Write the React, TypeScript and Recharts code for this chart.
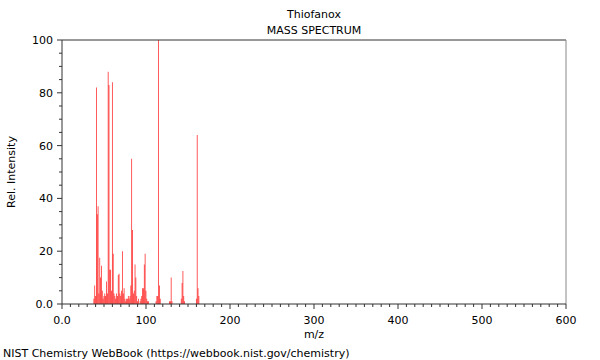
import React from "react";
import { BarChart, Bar, XAxis, YAxis, ReferenceLine } from "recharts";

// m/z values and relative intensities
const mzValues = [
  38, 39, 40, 41, 42, 43, 44, 45, 46, 47, 48, 49, 50, 51, 52, 53, 54, 55, 56, 57,
  58, 59, 60, 61, 62, 63, 64, 65, 66, 67, 68, 69, 70, 71, 72, 73, 74, 75, 76, 77,
  78, 79, 80, 81, 82, 83, 84, 85, 86, 87, 88, 89, 90, 91, 93, 94, 95, 96, 97, 98,
  99, 100, 101, 102, 103, 112, 113, 114, 115, 116, 117, 128, 129, 130, 131, 142,
  143, 144, 145, 146, 160, 161, 162, 163,
];
const intensities = [
  2, 7, 3, 82, 34, 37, 4, 17.5, 10, 14.5, 5, 2, 3, 4, 3, 8.5, 4, 88, 83, 13,
  13, 5, 84, 19, 4, 3, 2, 4, 3, 11, 11.5, 4, 3, 5, 20, 4, 6, 2, 1, 2,
  2, 3, 2, 3, 7, 55, 28, 4, 5, 15, 10, 3, 1, 2, 1, 2, 3, 6, 6, 15,
  19, 5, 2, 1, 1, 1, 3, 3, 100, 7, 2, 1, 1, 10, 1, 2,
  8, 12.5, 3, 1, 2, 64, 6, 3,
];

const xTicks = Array.from({ length: 61 }, (_, i) => i * 10);
const yTicks = Array.from({ length: 21 }, (_, i) => i * 5);

const data = mzValues.map((mz, i) => ({ mz, value: intensities[i] }));

const FONT = "'DejaVu Sans', sans-serif";

function XTick(props: any) {
  const { x, y, payload } = props;
  const v = payload.value;
  const major = v % 100 === 0;
  return (
    <g>
      <line x1={x} x2={x} y1={y} y2={y + (major ? 5 : 3)} stroke="#333" />
      {major && (
        <text x={x} y={y + 20} textAnchor="middle" fontSize={11} fontFamily={FONT} fill="#000">
          {v === 0 ? "0.0" : v}
        </text>
      )}
    </g>
  );
}

function YTick(props: any) {
  const { x, y, payload } = props;
  const v = payload.value;
  const major = v % 20 === 0;
  return (
    <g>
      <line x1={x - (major ? 5 : 3)} x2={x} y1={y} y2={y} stroke="#333" />
      {major && (
        <text x={x - 9} y={y + 4} textAnchor="end" fontSize={11} fontFamily={FONT} fill="#000">
          {v === 0 ? "0.0" : v}
        </text>
      )}
    </g>
  );
}

export default function App() {
  return (
    <div style={{ position: "absolute", left: 0, top: 0, width: 600, height: 360, background: "#fff", fontFamily: FONT }}>
      <div style={{ position: "absolute", left: 62, width: 504, top: 8, textAlign: "center", fontSize: 11 }}>
        Thiofanox
      </div>
      <div style={{ position: "absolute", left: 62, width: 504, top: 24, textAlign: "center", fontSize: 11 }}>
        MASS SPECTRUM
      </div>
      <BarChart
        width={600}
        height={360}
        data={data}
        margin={{ top: 40, right: 34, left: 8, bottom: 26 }}
        barCategoryGap={0}
      >
        <XAxis
          dataKey="mz"
          type="number"
          domain={[0, 600]}
          ticks={xTicks}
          interval={0}
          tick={<XTick />}
          tickLine={false}
          tickSize={0}
          tickMargin={0}
          axisLine={{ stroke: "#333" }}
          height={30}
        />
        <YAxis
          type="number"
          domain={[0, 100]}
          ticks={yTicks}
          interval={0}
          tick={<YTick />}
          tickLine={false}
          tickSize={0}
          tickMargin={0}
          axisLine={{ stroke: "#333" }}
          width={54}
        />
        <ReferenceLine y={100} stroke="#333" />
        <ReferenceLine x={600} stroke="#888" />
        <Bar dataKey="value" fill="#ff0000" fillOpacity={0.85} barSize={1} isAnimationActive={false} />
      </BarChart>
      <div style={{ position: "absolute", left: 314, top: 328, transform: "translateX(-50%)", fontSize: 11 }}>
        m/z
      </div>
      <div
        style={{
          position: "absolute",
          left: 11,
          top: 172,
          transform: "translate(-50%, -50%) rotate(-90deg)",
          whiteSpace: "nowrap",
          fontSize: 11,
        }}
      >
        Rel. Intensity
      </div>
      <div style={{ position: "absolute", left: 3, top: 347, fontSize: 11, whiteSpace: "nowrap" }}>
        NIST Chemistry WebBook (https://webbook.nist.gov/chemistry)
      </div>
    </div>
  );
}
